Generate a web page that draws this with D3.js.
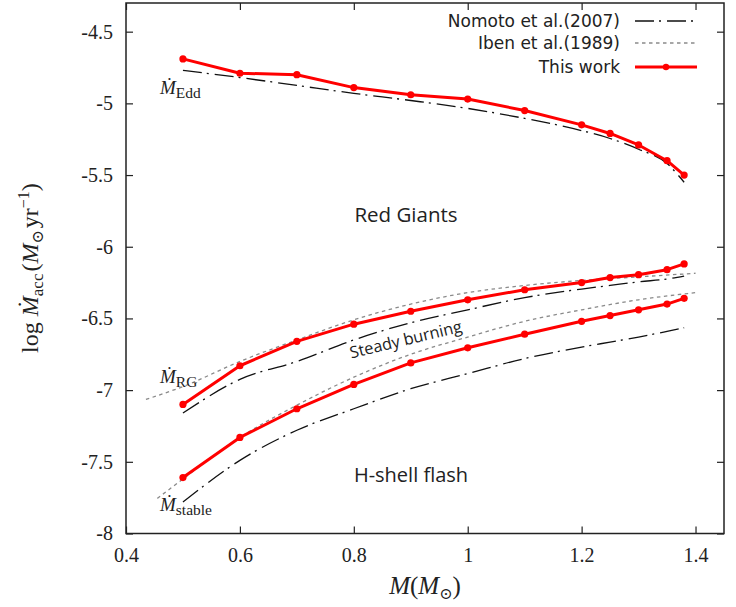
<!DOCTYPE html>
<html>
<head>
<meta charset="utf-8">
<script src="https://cdn.jsdelivr.net/npm/d3@7"></script>
<style>
  body { margin: 0; background: #fff; }
  svg { display: block; }
</style>
</head>
<body>
<div id="chart"></div>
<script>

// data
const massWork = [0.5, 0.6, 0.7, 0.8, 0.9, 1.0, 1.1, 1.2, 1.25, 1.3, 1.35, 1.38];
const eddWork = [-4.69, -4.79, -4.80, -4.89, -4.94, -4.97, -5.05, -5.15, -5.21, -5.29, -5.40, -5.50];
const rgWork = [-7.10, -6.83, -6.66, -6.54, -6.45, -6.37, -6.30, -6.25, -6.215, -6.195, -6.16, -6.12];
const stableWork = [-7.61, -7.33, -7.13, -6.96, -6.81, -6.705, -6.61, -6.52, -6.48, -6.44, -6.40, -6.36];

const massNomoto = [0.5, 0.6, 0.7, 0.8, 0.9, 1.0, 1.1, 1.2, 1.25, 1.3, 1.35, 1.38];
const eddNomoto = [-4.77, -4.82, -4.875, -4.93, -4.98, -5.035, -5.105, -5.19, -5.245, -5.32, -5.42, -5.55];
const rgNomoto = [-7.16, -6.925, -6.80, -6.65, -6.53, -6.44, -6.355, -6.295, -6.27, -6.245, -6.225, -6.205];
const stableNomoto = [-7.78, -7.49, -7.28, -7.13, -6.99, -6.885, -6.78, -6.70, -6.665, -6.63, -6.59, -6.565];

const massIbenRG = [0.435, 0.5, 0.6, 0.7, 0.8, 0.9, 1.0, 1.1, 1.2, 1.3, 1.4];
const rgIben = [-7.065, -6.975, -6.80, -6.65, -6.51, -6.40, -6.32, -6.27, -6.235, -6.21, -6.185];
const massIbenStable = [0.455, 0.5, 0.6, 0.7, 0.8, 0.9, 1.0, 1.1, 1.2, 1.3, 1.4];
const stableIben = [-7.755, -7.62, -7.33, -7.105, -6.91, -6.75, -6.63, -6.52, -6.44, -6.37, -6.32];

const xTicks = [0.4, 0.6, 0.8, 1.0, 1.2, 1.4];
const xTickLabels = ["0.4", "0.6", "0.8", "1", "1.2", "1.4"];
const yTicks = [-8, -7.5, -7, -6.5, -6, -5.5, -5, -4.5];
const yTickLabels = ["-8", "-7.5", "-7", "-6.5", "-6", "-5.5", "-5", "-4.5"];

const legendNames = ["Nomoto et al.(2007)", "Iben et al.(1989)", "This work"];

const width = 736, height = 607;
const margin = {top: 3, right: 12, bottom: 73.5, left: 126};

const serif = "'Liberation Serif', 'DejaVu Serif', serif";
const sans = "'Open Sans', 'Noto Sans', sans-serif";

let x = d3.scaleLinear()
    .domain([0.4, 1.45])
    .range([margin.left, width - margin.right]);

let y = d3.scaleLinear()
    .domain([-8, -4.3])
    .range([height - margin.bottom, margin.top]);

let svg = d3.select("#chart")
    .append("svg")
    .attr("width", width)
    .attr("height", height);

function zip(xs, ys) {
    return xs.map((m, i) => [m, ys[i]]);
}

// axes, ticks pointing inward on all four sides
let xAxis = d3.axisBottom(x).tickValues(xTicks).tickSizeInner(-7).tickSizeOuter(0)
    .tickPadding(14).tickFormat((d, i) => xTickLabels[i]);
let yAxis = d3.axisLeft(y).tickValues(yTicks).tickSizeInner(-7).tickSizeOuter(0)
    .tickPadding(13).tickFormat((d, i) => yTickLabels[i]);

let gx = svg.append("g")
    .attr("transform", "translate(0," + y.range()[0] + ")")
    .call(xAxis);
let gy = svg.append("g")
    .attr("transform", "translate(" + x.range()[0] + ",0)")
    .call(yAxis);
let gxTop = svg.append("g")
    .attr("transform", "translate(0," + y.range()[1] + ")")
    .call(d3.axisTop(x).tickValues(xTicks).tickSizeInner(-7).tickSizeOuter(0).tickFormat(""));
let gyRight = svg.append("g")
    .attr("transform", "translate(" + x.range()[1] + ",0)")
    .call(d3.axisRight(y).tickValues(yTicks).tickSizeInner(-7).tickSizeOuter(0).tickFormat(""));

[gx, gy, gxTop, gyRight].forEach(g => {
    g.select(".domain").remove();
    g.selectAll(".tick line").attr("stroke", "#222").attr("stroke-width", 1.2);
    g.selectAll(".tick text")
        .attr("font-family", serif)
        .attr("font-size", 20)
        .attr("fill", "#222");
});

svg.append("rect")
    .attr("x", x.range()[0])
    .attr("y", y.range()[1])
    .attr("width", x.range()[1] - x.range()[0])
    .attr("height", y.range()[0] - y.range()[1])
    .attr("fill", "none")
    .attr("stroke", "#222")
    .attr("stroke-width", 1.5);

let straight = d3.line().x(d => x(d[0])).y(d => y(d[1]));
let smooth = d3.line().x(d => x(d[0])).y(d => y(d[1])).curve(d3.curveMonotoneX);

// Iben et al. (1989), grey dotted
[zip(massIbenRG, rgIben), zip(massIbenStable, stableIben)].forEach(s => {
    svg.append("path")
        .attr("d", smooth(s))
        .attr("fill", "none")
        .attr("stroke", "#8a8a8a")
        .attr("stroke-width", 1.3)
        .attr("stroke-dasharray", "3.5,3.5");
});

// Nomoto et al. (2007), black dash-dot
[eddNomoto, rgNomoto, stableNomoto].forEach(v => {
    svg.append("path")
        .attr("d", smooth(zip(massNomoto, v)))
        .attr("fill", "none")
        .attr("stroke", "#111")
        .attr("stroke-width", 1.3)
        .attr("stroke-dasharray", "19,5,2,6");
});

// This work, red lines with points
[eddWork, rgWork, stableWork].forEach(v => {
    let pts = zip(massWork, v);
    svg.append("path")
        .attr("d", straight(pts))
        .attr("fill", "none")
        .attr("stroke", "#ff0000")
        .attr("stroke-width", 3)
        .attr("stroke-linejoin", "round");
    svg.selectAll(null)
        .data(pts)
        .enter().append("circle")
        .attr("cx", d => x(d[0]))
        .attr("cy", d => y(d[1]))
        .attr("r", 3.6)
        .attr("fill", "#ff0000");
});

// legend
let legendY = [21, 43, 67];
let legend = svg.append("g");
legendNames.forEach((name, i) => {
    legend.append("text")
        .attr("x", 620)
        .attr("y", legendY[i] + 6)
        .attr("text-anchor", "end")
        .attr("font-family", "'DejaVu Sans', sans-serif")
        .attr("font-size", 17)
        .attr("fill", "#222")
        .text(name);
});
legend.append("line")
    .attr("x1", 635).attr("x2", 697).attr("y1", legendY[0]).attr("y2", legendY[0])
    .attr("stroke", "#111").attr("stroke-width", 1.3).attr("stroke-dasharray", "19,5,2,6");
legend.append("line")
    .attr("x1", 635).attr("x2", 697).attr("y1", legendY[1]).attr("y2", legendY[1])
    .attr("stroke", "#8a8a8a").attr("stroke-width", 1.3).attr("stroke-dasharray", "3.5,3.5");
legend.append("line")
    .attr("x1", 635).attr("x2", 697).attr("y1", legendY[2]).attr("y2", legendY[2])
    .attr("stroke", "#ff0000").attr("stroke-width", 3);
legend.append("circle")
    .attr("cx", 666).attr("cy", legendY[2]).attr("r", 3.2).attr("fill", "#ff0000");

// region labels
svg.append("text")
    .attr("x", 406).attr("y", 222)
    .attr("text-anchor", "middle")
    .attr("font-family", sans).attr("font-size", 20.5).attr("fill", "#222")
    .text("Red Giants");
svg.append("text")
    .attr("x", 411).attr("y", 482)
    .attr("text-anchor", "middle")
    .attr("font-family", sans).attr("font-size", 20).attr("fill", "#222")
    .text("H-shell flash");
svg.append("text")
    .attr("transform", "translate(407,345) rotate(-13.5)")
    .attr("text-anchor", "middle")
    .attr("font-family", sans).attr("font-size", 16.3).attr("fill", "#222")
    .text("Steady burning");

// Mdot labels
function mdotLabel(px, py, sub) {
    let t = svg.append("text")
        .attr("x", px).attr("y", py)
        .attr("font-family", serif).attr("fill", "#222");
    t.append("tspan").attr("font-style", "italic").attr("font-size", 19).text("\u1E40");
    t.append("tspan").attr("font-size", 15.5).attr("dy", 4).text(sub);
}
mdotLabel(160, 94, "Edd");
mdotLabel(160, 383, "RG");
mdotLabel(160, 511, "stable");

// axis titles
let yl = svg.append("text")
    .attr("transform", "translate(38,268) rotate(-90)")
    .attr("text-anchor", "middle")
    .attr("font-family", serif).attr("font-size", 24).attr("fill", "#222");
yl.append("tspan").text("log ");
yl.append("tspan").attr("font-style", "italic").text("\u1E40");
yl.append("tspan").attr("font-size", 17).attr("dy", 5).text("acc");
yl.append("tspan").attr("dy", -5).attr("dx", 2).text("(");
yl.append("tspan").attr("font-style", "italic").text("M");
yl.append("tspan").attr("font-size", 16).attr("dy", 5).text("\u2299");
yl.append("tspan").attr("dy", -5).attr("dx", 2).text("yr");
yl.append("tspan").attr("font-size", 16).attr("dy", -9).text("\u22121");
yl.append("tspan").attr("dy", 9).text(")");

let xl = svg.append("text")
    .attr("x", 425).attr("y", 594)
    .attr("text-anchor", "middle")
    .attr("font-family", serif).attr("font-size", 25).attr("fill", "#222");
xl.append("tspan").attr("font-style", "italic").text("M");
xl.append("tspan").text("(");
xl.append("tspan").attr("font-style", "italic").text("M");
xl.append("tspan").attr("font-size", 16).attr("dy", 5).text("\u2299");
xl.append("tspan").attr("dy", -5).text(")");

</script>
</body>
</html>
